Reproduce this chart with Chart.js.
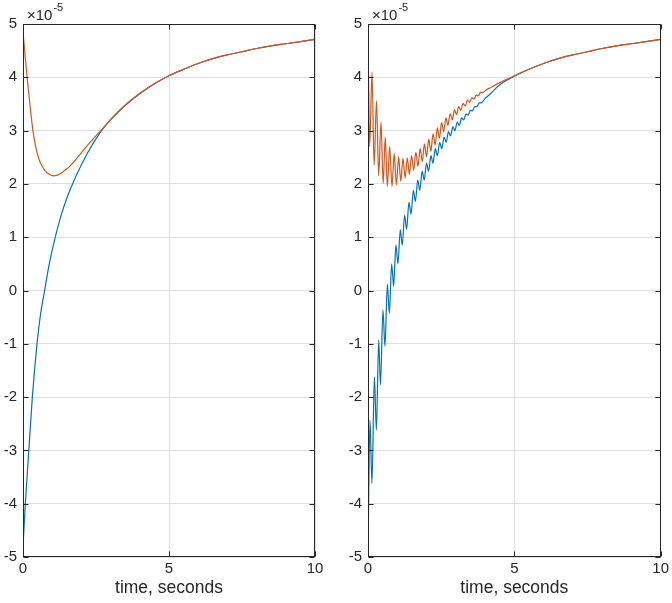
<!DOCTYPE html>
<html>
<head>
<meta charset="utf-8">
<script src="https://cdn.jsdelivr.net/npm/chart.js@4/dist/chart.umd.min.js"></script>
<style>
  body { margin: 0; background: #fff; }
  #wrap { position: relative; width: 672px; height: 603px; }
  canvas { position: absolute; top: 0; }
</style>
</head>
<body>
<div id="wrap">
  <canvas id="left" width="336" height="603" style="left:0"></canvas>
  <canvas id="right" width="336" height="603" style="left:336px"></canvas>
</div>
<script>
// tick labels
var xTicks = [0, 5, 10];
var yTicks = [-5, -4, -3, -2, -1, 0, 1, 2, 3, 4, 5];

// left panel (values x 1e-5)
var leftBlueT = [0, 0.08, 0.2, 0.32, 0.48, 0.6, 0.74, 0.9, 1.09, 1.3, 1.5, 1.8, 2.2, 2.6, 3.0, 3.5, 4.0, 4.5, 5, 5.5, 6, 6.5, 7, 7.5, 8, 8.5, 9, 9.5, 10];
var leftBlue = [-4.8, -4.0, -3.0, -2.0, -1.0, -0.45, 0.0, 0.5, 0.97, 1.4, 1.73, 2.13, 2.57, 2.93, 3.2, 3.47, 3.69, 3.88, 4.03, 4.15, 4.26, 4.35, 4.42, 4.48, 4.54, 4.59, 4.63, 4.67, 4.71];
var leftOrangeT = [0, 0.07, 0.14, 0.25, 0.34, 0.42, 0.5, 0.6, 0.75, 0.9, 1.03, 1.2, 1.4, 1.6, 1.8, 2.17, 2.63, 3.09, 3.5, 4.0, 4.5, 5, 5.5, 6, 6.5, 7, 7.5, 8, 8.5, 9, 9.5, 10];
var leftOrange = [4.86, 4.42, 4.0, 3.42, 3.0, 2.74, 2.55, 2.39, 2.25, 2.18, 2.15, 2.17, 2.24, 2.33, 2.45, 2.7, 2.98, 3.26, 3.48, 3.7, 3.88, 4.03, 4.15, 4.26, 4.35, 4.42, 4.48, 4.54, 4.59, 4.63, 4.67, 4.71];

// right panel, peaks and troughs
var rightBlueT = [0, 0.068, 0.136, 0.218, 0.286, 0.365, 0.426, 0.511, 0.58, 0.661, 0.73, 0.808, 0.876, 0.954, 1.022, 1.104, 1.169, 1.251, 1.319, 1.401, 1.469, 1.551, 1.619, 1.701, 1.769, 1.851, 1.919, 2.0, 2.069, 2.151, 2.219, 2.3, 2.369, 2.451, 2.519, 2.6, 2.669, 2.75, 2.819, 2.9, 2.969, 3.05, 3.119, 3.2, 3.269, 3.35, 3.42, 3.5, 3.57, 3.65, 3.72, 3.8, 3.87, 4.0, 4.2, 4.5, 5, 5.5, 6, 6.5, 7, 7.5, 8, 8.5, 9, 9.5, 10];
var rightBlue = [-4.99, -2.43, -3.62, -1.62, -2.62, -0.93, -1.77, -0.37, -1.05, 0.12, -0.43, 0.5, 0.08, 0.85, 0.5, 1.14, 0.85, 1.41, 1.15, 1.66, 1.43, 1.88, 1.67, 2.07, 1.88, 2.24, 2.07, 2.39, 2.24, 2.53, 2.39, 2.66, 2.53, 2.78, 2.66, 2.88, 2.78, 2.98, 2.9, 3.07, 3.0, 3.16, 3.1, 3.24, 3.2, 3.31, 3.29, 3.38, 3.37, 3.45, 3.45, 3.52, 3.52, 3.6, 3.7, 3.86, 4.02, 4.15, 4.26, 4.35, 4.42, 4.48, 4.54, 4.59, 4.63, 4.67, 4.71];
var rightOrangeT = [0, 0.058, 0.136, 0.21, 0.29, 0.365, 0.443, 0.518, 0.59, 0.66, 0.74, 0.82, 0.896, 0.97, 1.046, 1.12, 1.196, 1.268, 1.343, 1.414, 1.489, 1.561, 1.636, 1.708, 1.783, 1.854, 1.929, 2.0, 2.076, 2.147, 2.222, 2.294, 2.369, 2.44, 2.515, 2.587, 2.662, 2.733, 2.808, 2.88, 2.955, 3.027, 3.1, 3.17, 3.25, 3.32, 3.4, 3.47, 3.55, 3.62, 3.7, 3.77, 3.85, 3.92, 4.0, 4.2, 4.5, 5, 5.5, 6, 6.5, 7, 7.5, 8, 8.5, 9, 9.5, 10];
var rightOrange = [4.83, 2.7, 4.1, 2.35, 3.56, 2.15, 3.16, 2.01, 2.88, 1.95, 2.7, 1.95, 2.57, 1.98, 2.51, 2.05, 2.48, 2.11, 2.49, 2.18, 2.53, 2.26, 2.59, 2.33, 2.66, 2.42, 2.75, 2.51, 2.84, 2.61, 2.94, 2.73, 3.05, 2.86, 3.15, 2.98, 3.24, 3.1, 3.32, 3.2, 3.39, 3.3, 3.45, 3.38, 3.51, 3.46, 3.57, 3.53, 3.62, 3.59, 3.67, 3.65, 3.72, 3.71, 3.75, 3.81, 3.9, 4.03, 4.15, 4.26, 4.35, 4.42, 4.48, 4.54, 4.59, 4.63, 4.67, 4.71];

var blueColor = '#0072BD';
var orangeColor = '#D95319';
var axisColor = '#262626';
var fontFamily = '"Liberation Sans", Arial, Helvetica, sans-serif';

function pts(t, v) {
    return t.map(function (x, i) { return { x: x, y: v[i] }; });
}

var boxPlugin = {
    id: 'box',
    afterDraw: function (chart) {
        var ctx = chart.ctx;
        var a = chart.chartArea;
        var x = chart.scales.x, y = chart.scales.y;
        var l = Math.round(a.left) + 0.5, r = Math.round(a.right) - 0.5;
        var t = Math.round(a.top) + 0.5, b = Math.round(a.bottom) - 0.5;
        ctx.save();
        ctx.strokeStyle = axisColor;
        ctx.lineWidth = 1;
        ctx.strokeRect(l, t, r - l, b - t);
        ctx.beginPath();
        yTicks.forEach(function (v) {
            var py = Math.round(y.getPixelForValue(v)) + 0.5;
            ctx.moveTo(l, py); ctx.lineTo(l + 5, py);
            ctx.moveTo(r, py); ctx.lineTo(r - 5, py);
        });
        xTicks.forEach(function (v) {
            var px = Math.round(x.getPixelForValue(v)) + 0.5;
            ctx.moveTo(px, b); ctx.lineTo(px, b - 5);
            ctx.moveTo(px, t); ctx.lineTo(px, t + 5);
        });
        ctx.stroke();
        // exponent label
        ctx.fillStyle = axisColor;
        ctx.textBaseline = 'alphabetic';
        ctx.textAlign = 'left';
        ctx.font = '15px ' + fontFamily;
        ctx.fillText('\u00d710', a.left + 4, 20);
        var w = ctx.measureText('\u00d710').width;
        ctx.font = '11px ' + fontFamily;
        ctx.fillText('-5', a.left + 5 + w, 11);
        ctx.restore();
    }
};

function makeChart(id, blueT, blue, orangeT, orange, yWidth, padRight) {
    var ctx = document.getElementById(id).getContext('2d');
    return new Chart(ctx, {
        type: 'line',
        data: {
            datasets: [{
                label: 'orange',
                data: pts(orangeT, orange),
                borderColor: orangeColor,
                borderWidth: 1.2,
                pointRadius: 0,
                cubicInterpolationMode: 'monotone',
                order: 0
            }, {
                label: 'blue',
                data: pts(blueT, blue),
                borderColor: blueColor,
                borderWidth: 1.2,
                pointRadius: 0,
                cubicInterpolationMode: 'monotone',
                order: 1
            }]
        },
        options: {
            responsive: false,
            animation: false,
            layout: { padding: { top: 24, right: padRight, left: 0, bottom: 0 } },
            plugins: { legend: { display: false }, tooltip: { enabled: false } },
            scales: {
                x: {
                    type: 'linear',
                    min: 0, max: 10,
                    afterBuildTicks: function (s) { s.ticks = xTicks.map(function (v) { return { value: v }; }); },
                    afterFit: function (s) { s.height = 46; },
                    grid: { color: '#dedede', drawTicks: false },
                    border: { display: false },
                    ticks: { color: axisColor, padding: 3, maxRotation: 0, font: { family: fontFamily, size: 15 } },
                    title: { display: true, text: 'time, seconds', color: axisColor, padding: { top: 0, bottom: 4 }, font: { family: fontFamily, size: 17.5 } }
                },
                y: {
                    type: 'linear',
                    min: -5, max: 5,
                    afterBuildTicks: function (s) { s.ticks = yTicks.map(function (v) { return { value: v }; }); },
                    afterFit: function (s) { s.width = yWidth; },
                    grid: { color: '#dedede', drawTicks: false },
                    border: { display: false },
                    ticks: { color: axisColor, padding: 6, font: { family: fontFamily, size: 15 } }
                }
            }
        },
        plugins: [boxPlugin]
    });
}

makeChart('left', leftBlueT, leftBlue, leftOrangeT, leftOrange, 23, 21);
makeChart('right', rightBlueT, rightBlue, rightOrangeT, rightOrange, 32, 10);
</script>
</body>
</html>
